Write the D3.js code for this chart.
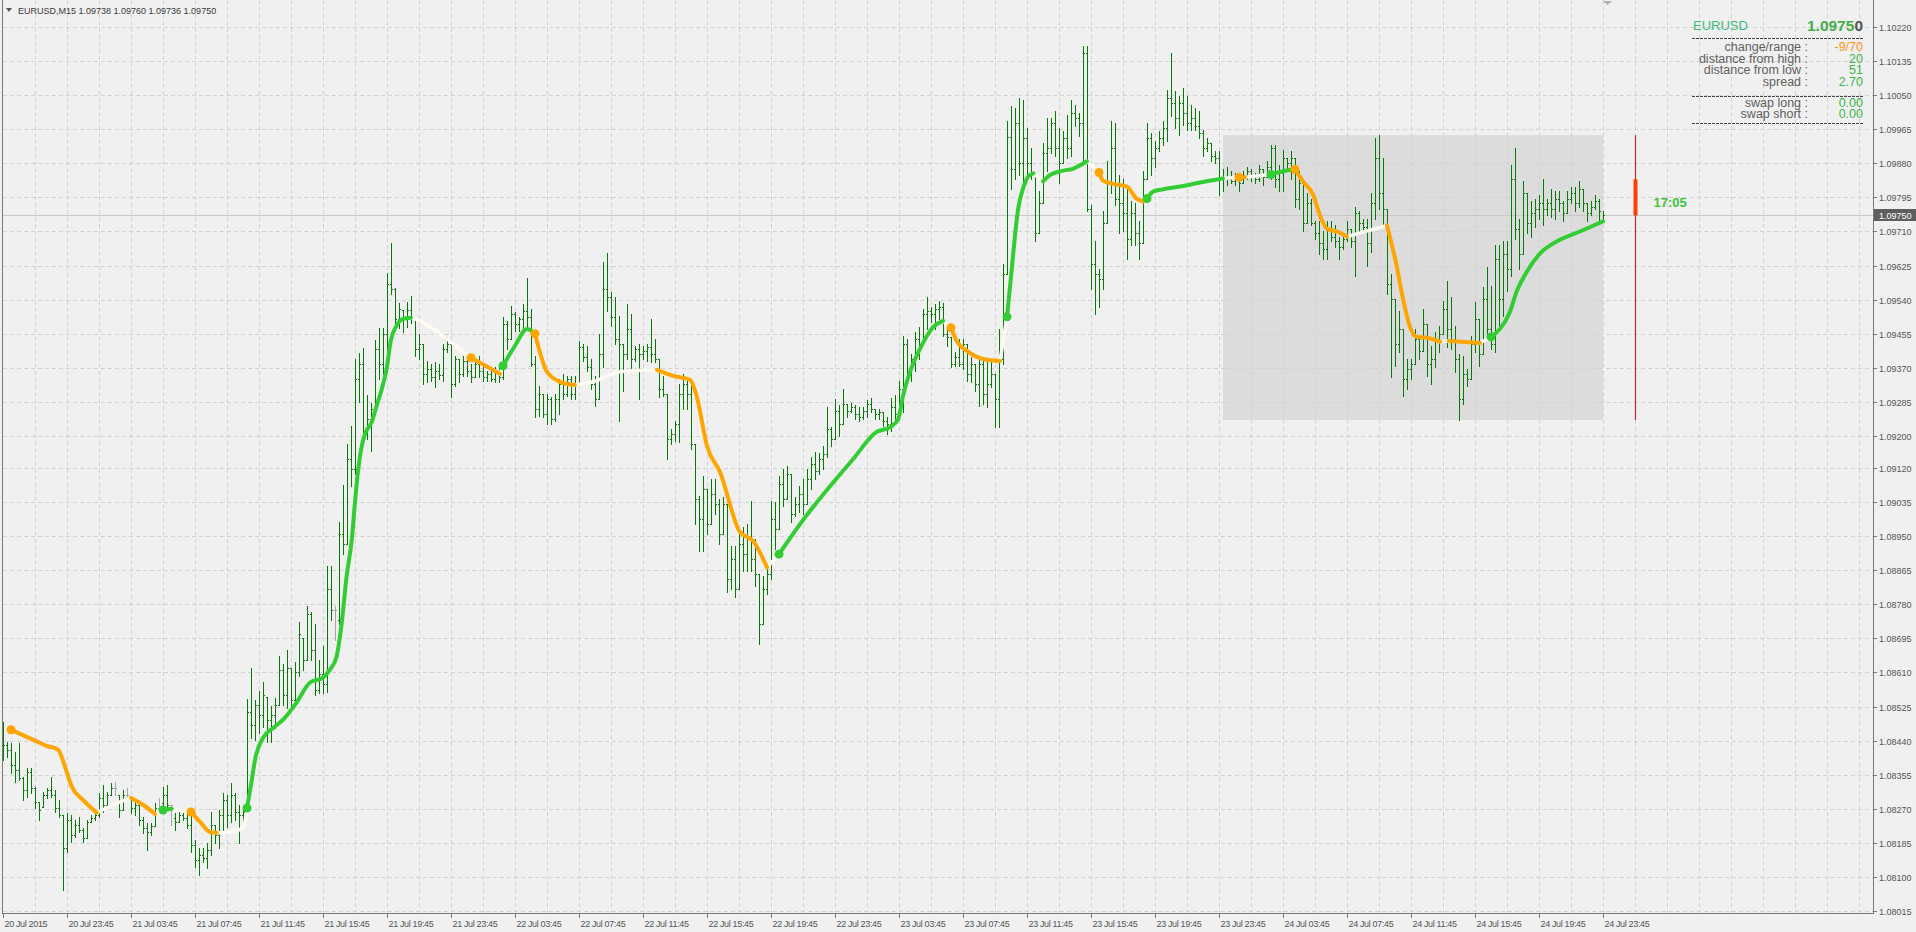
<!DOCTYPE html>
<html><head><meta charset="utf-8">
<script src="https://cdn.jsdelivr.net/npm/d3@7"></script>
<style>html,body{margin:0;padding:0;background:#f0f0f0;overflow:hidden}</style>
</head><body><svg id="c" width="1916" height="932"></svg>
<script>
// ---------------- DATA ----------------
const symbol = "EURUSD";
const timeframe = "M15";
const firstBarTime = "2015-07-20T19:45";
const highs = [
1.08487,1.08437,1.08435,1.08412,1.08435,1.08350,1.08372,1.08372,1.08325,1.08287,
1.08312,1.08322,1.08350,1.08317,1.08292,1.08255,1.08260,1.08255,1.08242,1.08250,
1.08222,1.08242,1.08255,1.08260,1.08310,1.08330,1.08312,1.08335,1.08337,1.08305,
1.08317,1.08322,1.08297,1.08292,1.08280,1.08250,1.08235,1.08235,1.08285,1.08297,
1.08325,1.08330,1.08280,1.08260,1.08262,1.08260,1.08262,1.08255,1.08192,1.08172,
1.08172,1.08185,1.08262,1.08230,1.08267,1.08310,1.08305,1.08335,1.08310,1.08280,
1.08267,1.08545,1.08620,1.08542,1.08565,1.08585,1.08550,1.08527,1.08547,1.08652,
1.08630,1.08667,1.08622,1.08635,1.08735,1.08697,1.08777,1.08762,1.08730,1.08642,
1.08677,1.08875,1.08875,1.08777,1.08985,1.09077,1.09180,1.09225,1.09392,1.09407,
1.09420,1.09302,1.09282,1.09440,1.09470,1.09470,1.09607,1.09682,1.09570,1.09532,
1.09515,1.09535,1.09550,1.09492,1.09455,1.09430,1.09387,1.09380,1.09385,1.09380,
1.09430,1.09447,1.09430,1.09400,1.09392,1.09400,1.09392,1.09380,1.09392,1.09400,
1.09372,1.09362,1.09367,1.09372,1.09380,1.09497,1.09487,1.09525,1.09510,1.09497,
1.09530,1.09595,1.09517,1.09400,1.09325,1.09305,1.09305,1.09297,1.09305,1.09342,
1.09355,1.09350,1.09350,1.09350,1.09437,1.09430,1.09425,1.09392,1.09350,1.09455,
1.09635,1.09657,1.09560,1.09547,1.09500,1.09430,1.09530,1.09505,1.09425,1.09430,
1.09425,1.09430,1.09492,1.09442,1.09392,1.09350,1.09305,1.09217,1.09237,1.09330,
1.09355,1.09347,1.09342,1.09180,1.09050,1.09100,1.09067,1.09092,1.09092,1.09042,
1.09047,1.09030,1.08925,1.08925,1.08962,1.08972,1.08980,1.09037,1.08942,1.08855,
1.08850,1.08880,1.09037,1.09035,1.09100,1.09117,1.09125,1.09105,1.09047,1.09075,
1.09092,1.09117,1.09147,1.09160,1.09157,1.09175,1.09272,1.09222,1.09292,1.09277,
1.09317,1.09280,1.09282,1.09277,1.09272,1.09272,1.09290,1.09295,1.09267,1.09267,
1.09260,1.09247,1.09295,1.09302,1.09337,1.09450,1.09442,1.09405,1.09460,1.09472,
1.09517,1.09547,1.09522,1.09530,1.09537,1.09532,1.09467,1.09447,1.09410,1.09442,
1.09442,1.09430,1.09397,1.09380,1.09397,1.09392,1.09385,1.09385,1.09355,1.09467,
1.09630,1.09985,1.10022,1.10017,1.10042,1.10037,1.09967,1.09917,1.09855,1.09812,
1.09930,1.09992,1.09992,1.10010,1.09967,1.09960,1.10000,1.10037,1.10025,1.10005,
1.10172,1.10172,1.09775,1.09685,1.09617,1.09760,1.09887,1.09985,1.09980,1.09850,
1.09842,1.09822,1.09785,1.09780,1.09737,1.09860,1.09980,1.09955,1.09935,1.09960,
1.09985,1.10062,1.10155,1.10060,1.10047,1.10067,1.10047,1.10025,1.10017,1.10010,
1.09962,1.09942,1.09930,1.09910,1.09910,1.09867,1.09870,1.09860,1.09855,1.09855,
1.09860,1.09872,1.09867,1.09855,1.09875,1.09867,1.09885,1.09925,1.09925,1.09875,
1.09912,1.09892,1.09910,1.09892,1.09860,1.09830,1.09805,1.09792,1.09735,1.09735,
1.09712,1.09735,1.09735,1.09725,1.09697,1.09705,1.09737,1.09717,1.09772,1.09760,
1.09742,1.09742,1.09805,1.09942,1.09950,1.09892,1.09767,1.09605,1.09542,1.09512,
1.09467,1.09392,1.09392,1.09467,1.09442,1.09517,1.09480,1.09425,1.09460,1.09475,
1.09537,1.09587,1.09547,1.09475,1.09405,1.09400,1.09367,1.09450,1.09535,1.09492,
1.09572,1.09622,1.09575,1.09675,1.09675,1.09685,1.09687,1.09875,1.09917,1.09742,
1.09837,1.09805,1.09785,1.09792,1.09800,1.09842,1.09792,1.09817,1.09812,1.09810,
1.09787,1.09810,1.09822,1.09822,1.09837,1.09817,1.09780,1.09787,1.09800,1.09792,
1.09760];
const lows = [
1.08392,1.08400,1.08360,1.08337,1.08342,1.08292,1.08300,1.08310,1.08272,1.08242,
1.08275,1.08297,1.08300,1.08262,1.08250,1.08067,1.08162,1.08187,1.08200,1.08212,
1.08187,1.08197,1.08237,1.08242,1.08250,1.08262,1.08275,1.08305,1.08305,1.08250,
1.08267,1.08292,1.08260,1.08255,1.08230,1.08210,1.08167,1.08205,1.08227,1.08267,
1.08262,1.08275,1.08230,1.08217,1.08237,1.08242,1.08222,1.08162,1.08125,1.08105,
1.08137,1.08122,1.08155,1.08185,1.08172,1.08212,1.08225,1.08237,1.08242,1.08185,
1.08225,1.08262,1.08447,1.08442,1.08460,1.08475,1.08437,1.08437,1.08472,1.08530,
1.08530,1.08522,1.08525,1.08542,1.08600,1.08617,1.08642,1.08642,1.08555,1.08560,
1.08560,1.08562,1.08742,1.08692,1.08730,1.08905,1.08930,1.09075,1.09105,1.09285,
1.09205,1.09192,1.09162,1.09262,1.09342,1.09355,1.09400,1.09555,1.09480,1.09470,
1.09460,1.09472,1.09482,1.09400,1.09392,1.09330,1.09335,1.09337,1.09322,1.09342,
1.09337,1.09410,1.09297,1.09325,1.09335,1.09350,1.09350,1.09335,1.09347,1.09347,
1.09337,1.09337,1.09337,1.09335,1.09335,1.09342,1.09417,1.09442,1.09462,1.09462,
1.09467,1.09467,1.09375,1.09247,1.09250,1.09247,1.09230,1.09230,1.09237,1.09255,
1.09292,1.09300,1.09292,1.09292,1.09330,1.09387,1.09362,1.09317,1.09275,1.09292,
1.09372,1.09512,1.09475,1.09430,1.09237,1.09312,1.09392,1.09367,1.09387,1.09292,
1.09392,1.09387,1.09385,1.09385,1.09297,1.09300,1.09142,1.09180,1.09187,1.09185,
1.09267,1.09267,1.09167,1.08980,1.08912,1.08912,1.08955,1.08980,1.09005,1.08930,
1.08955,1.08810,1.08817,1.08797,1.08817,1.08862,1.08862,1.08862,1.08825,1.08680,
1.08730,1.08805,1.08842,1.08917,1.08967,1.09025,1.09042,1.08985,1.09000,1.09010,
1.09005,1.09030,1.09067,1.09092,1.09105,1.09117,1.09147,1.09175,1.09192,1.09200,
1.09230,1.09247,1.09260,1.09242,1.09237,1.09242,1.09247,1.09260,1.09242,1.09242,
1.09225,1.09205,1.09212,1.09242,1.09242,1.09260,1.09335,1.09337,1.09362,1.09392,
1.09430,1.09467,1.09485,1.09467,1.09492,1.09450,1.09425,1.09372,1.09375,1.09375,
1.09367,1.09337,1.09335,1.09312,1.09275,1.09280,1.09272,1.09322,1.09222,1.09222,
1.09380,1.09605,1.09817,1.09842,1.09850,1.09825,1.09850,1.09842,1.09687,1.09705,
1.09780,1.09862,1.09905,1.09897,1.09830,1.09880,1.09892,1.09897,1.09972,1.09947,
1.09880,1.09762,1.09567,1.09505,1.09522,1.09567,1.09730,1.09805,1.09775,1.09705,
1.09712,1.09642,1.09675,1.09675,1.09642,1.09680,1.09842,1.09850,1.09872,1.09910,
1.09925,1.09935,1.09997,1.09967,1.09950,1.09975,1.09962,1.09962,1.09962,1.09942,
1.09897,1.09910,1.09887,1.09880,1.09800,1.09812,1.09825,1.09830,1.09825,1.09812,
1.09830,1.09842,1.09835,1.09830,1.09837,1.09825,1.09847,1.09842,1.09822,1.09812,
1.09810,1.09867,1.09842,1.09772,1.09767,1.09712,1.09730,1.09725,1.09692,1.09655,
1.09642,1.09642,1.09685,1.09672,1.09642,1.09667,1.09687,1.09672,1.09600,1.09705,
1.09710,1.09625,1.09660,1.09742,1.09767,1.09722,1.09555,1.09347,1.09375,1.09410,
1.09300,1.09317,1.09342,1.09380,1.09392,1.09412,1.09350,1.09330,1.09372,1.09410,
1.09455,1.09422,1.09417,1.09360,1.09240,1.09280,1.09325,1.09342,1.09410,1.09375,
1.09405,1.09442,1.09417,1.09410,1.09475,1.09500,1.09562,1.09600,1.09692,1.09617,
1.09655,1.09705,1.09697,1.09722,1.09742,1.09725,1.09750,1.09747,1.09742,1.09762,
1.09737,1.09755,1.09780,1.09762,1.09772,1.09760,1.09737,1.09750,1.09767,1.09735,
1.09736];
const opens = [
1.08442,1.08430,1.08417,1.08380,1.08367,1.08347,1.08317,1.08362,1.08322,1.08287,
1.08275,1.08305,1.08317,1.08305,1.08272,1.08255,1.08172,1.08242,1.08205,1.08230,
1.08217,1.08197,1.08237,1.08247,1.08255,1.08297,1.08280,1.08305,1.08322,1.08305,
1.08267,1.08305,1.08297,1.08272,1.08280,1.08242,1.08222,1.08212,1.08227,1.08272,
1.08285,1.08305,1.08280,1.08247,1.08237,1.08255,1.08247,1.08230,1.08180,1.08142,
1.08155,1.08147,1.08167,1.08230,1.08205,1.08255,1.08292,1.08255,1.08305,1.08262,
1.08255,1.08262,1.08512,1.08480,1.08530,1.08505,1.08550,1.08492,1.08505,1.08530,
1.08617,1.08555,1.08622,1.08542,1.08612,1.08697,1.08642,1.08755,1.08667,1.08567,
1.08605,1.08580,1.08817,1.08767,1.08742,1.08955,1.08930,1.09142,1.09117,1.09342,
1.09380,1.09212,1.09242,1.09267,1.09417,1.09380,1.09455,1.09580,1.09567,1.09492,
1.09515,1.09492,1.09515,1.09492,1.09417,1.09430,1.09355,1.09367,1.09347,1.09362,
1.09352,1.09417,1.09430,1.09330,1.09392,1.09355,1.09387,1.09362,1.09347,1.09380,
1.09362,1.09347,1.09355,1.09342,1.09362,1.09347,1.09480,1.09442,1.09505,1.09480,
1.09492,1.09512,1.09497,1.09380,1.09267,1.09305,1.09255,1.09292,1.09242,1.09292,
1.09330,1.09305,1.09342,1.09305,1.09330,1.09422,1.09397,1.09372,1.09330,1.09292,
1.09405,1.09567,1.09547,1.09497,1.09442,1.09430,1.09405,1.09467,1.09392,1.09417,
1.09405,1.09412,1.09422,1.09405,1.09392,1.09317,1.09305,1.09192,1.09205,1.09230,
1.09305,1.09330,1.09305,1.09180,1.09042,1.08992,1.09067,1.08980,1.09055,1.09030,
1.08955,1.09030,1.08842,1.08892,1.08817,1.08930,1.08905,1.08942,1.08892,1.08855,
1.08730,1.08817,1.08855,1.08992,1.08967,1.09080,1.09042,1.09105,1.09005,1.09030,
1.09055,1.09030,1.09092,1.09130,1.09112,1.09142,1.09155,1.09217,1.09192,1.09262,
1.09230,1.09280,1.09262,1.09272,1.09255,1.09247,1.09262,1.09280,1.09267,1.09255,
1.09260,1.09237,1.09230,1.09272,1.09255,1.09317,1.09430,1.09355,1.09392,1.09442,
1.09430,1.09505,1.09512,1.09505,1.09517,1.09522,1.09455,1.09447,1.09380,1.09397,
1.09380,1.09430,1.09355,1.09380,1.09330,1.09380,1.09305,1.09330,1.09355,1.09292,
1.09392,1.09605,1.09945,1.09867,1.09980,1.09880,1.09942,1.09880,1.09855,1.09705,
1.09780,1.09905,1.09917,1.09980,1.09917,1.09880,1.09942,1.09917,1.10005,1.09992,
1.09980,1.10155,1.09767,1.09630,1.09605,1.09592,1.09730,1.09830,1.09917,1.09792,
1.09780,1.09755,1.09692,1.09755,1.09705,1.09680,1.09842,1.09942,1.09892,1.09917,
1.09942,1.09967,1.10042,1.10030,1.09992,1.10030,1.10005,1.09980,1.09992,1.09972,
1.09955,1.09917,1.09930,1.09897,1.09892,1.09840,1.09847,1.09842,1.09837,1.09842,
1.09830,1.09852,1.09862,1.09847,1.09842,1.09867,1.09847,1.09872,1.09917,1.09842,
1.09855,1.09892,1.09880,1.09892,1.09792,1.09830,1.09730,1.09780,1.09730,1.09705,
1.09680,1.09667,1.09717,1.09697,1.09687,1.09672,1.09692,1.09717,1.09687,1.09755,
1.09730,1.09722,1.09680,1.09780,1.09892,1.09805,1.09767,1.09580,1.09542,1.09430,
1.09467,1.09342,1.09367,1.09380,1.09442,1.09412,1.09480,1.09380,1.09392,1.09442,
1.09455,1.09517,1.09467,1.09442,1.09392,1.09292,1.09355,1.09342,1.09430,1.09492,
1.09405,1.09542,1.09467,1.09430,1.09642,1.09542,1.09655,1.09617,1.09842,1.09717,
1.09655,1.09805,1.09730,1.09755,1.09767,1.09780,1.09767,1.09780,1.09767,1.09792,
1.09780,1.09755,1.09792,1.09805,1.09780,1.09817,1.09780,1.09755,1.09772,1.09787,
1.09738];
const closes = [
1.08430,1.08417,1.08380,1.08367,1.08347,1.08317,1.08362,1.08322,1.08287,1.08267,
1.08305,1.08317,1.08305,1.08272,1.08255,1.08172,1.08242,1.08205,1.08230,1.08217,
1.08197,1.08237,1.08247,1.08255,1.08297,1.08280,1.08305,1.08322,1.08322,1.08267,
1.08305,1.08305,1.08272,1.08280,1.08242,1.08222,1.08212,1.08227,1.08272,1.08272,
1.08305,1.08280,1.08280,1.08237,1.08255,1.08247,1.08230,1.08180,1.08142,1.08155,
1.08147,1.08167,1.08230,1.08205,1.08255,1.08292,1.08255,1.08305,1.08262,1.08255,
1.08262,1.08512,1.08480,1.08530,1.08505,1.08555,1.08492,1.08505,1.08530,1.08617,
1.08555,1.08622,1.08542,1.08612,1.08705,1.08642,1.08755,1.08667,1.08567,1.08605,
1.08580,1.08817,1.08767,1.08767,1.08955,1.08930,1.09142,1.09117,1.09342,1.09380,
1.09212,1.09242,1.09267,1.09417,1.09380,1.09455,1.09580,1.09567,1.09492,1.09517,
1.09492,1.09515,1.09492,1.09417,1.09430,1.09355,1.09367,1.09347,1.09362,1.09352,
1.09417,1.09430,1.09330,1.09392,1.09355,1.09387,1.09362,1.09347,1.09380,1.09362,
1.09347,1.09355,1.09342,1.09362,1.09347,1.09480,1.09442,1.09505,1.09480,1.09492,
1.09512,1.09497,1.09380,1.09267,1.09305,1.09255,1.09292,1.09242,1.09292,1.09330,
1.09305,1.09342,1.09305,1.09330,1.09422,1.09397,1.09372,1.09330,1.09292,1.09405,
1.09567,1.09547,1.09497,1.09442,1.09430,1.09405,1.09467,1.09392,1.09417,1.09405,
1.09412,1.09422,1.09405,1.09392,1.09317,1.09305,1.09192,1.09205,1.09230,1.09305,
1.09330,1.09305,1.09180,1.09042,1.08992,1.09067,1.08980,1.09055,1.09030,1.08955,
1.09030,1.08842,1.08892,1.08817,1.08930,1.08905,1.08942,1.08892,1.08855,1.08730,
1.08817,1.08855,1.08992,1.08967,1.09080,1.09042,1.09105,1.09005,1.09030,1.09055,
1.09030,1.09092,1.09130,1.09112,1.09142,1.09155,1.09217,1.09192,1.09262,1.09230,
1.09280,1.09262,1.09272,1.09255,1.09247,1.09262,1.09280,1.09267,1.09255,1.09260,
1.09237,1.09230,1.09272,1.09255,1.09317,1.09430,1.09355,1.09392,1.09442,1.09430,
1.09505,1.09512,1.09505,1.09517,1.09522,1.09455,1.09447,1.09380,1.09397,1.09380,
1.09430,1.09355,1.09380,1.09330,1.09380,1.09305,1.09330,1.09355,1.09292,1.09392,
1.09605,1.09945,1.09867,1.09980,1.09880,1.09942,1.09880,1.09855,1.09705,1.09780,
1.09905,1.09917,1.09980,1.09917,1.09880,1.09942,1.09917,1.10005,1.09992,1.09980,
1.10155,1.09767,1.09630,1.09605,1.09592,1.09730,1.09830,1.09917,1.09792,1.09780,
1.09755,1.09692,1.09755,1.09705,1.09680,1.09842,1.09942,1.09892,1.09917,1.09942,
1.09967,1.10042,1.10030,1.09992,1.10030,1.10005,1.09980,1.09992,1.09972,1.09955,
1.09917,1.09930,1.09897,1.09892,1.09840,1.09847,1.09842,1.09837,1.09842,1.09830,
1.09852,1.09862,1.09847,1.09842,1.09867,1.09847,1.09872,1.09917,1.09842,1.09855,
1.09892,1.09880,1.09892,1.09792,1.09830,1.09730,1.09780,1.09730,1.09705,1.09680,
1.09667,1.09717,1.09697,1.09687,1.09672,1.09692,1.09717,1.09687,1.09755,1.09730,
1.09722,1.09680,1.09780,1.09892,1.09805,1.09767,1.09580,1.09542,1.09430,1.09467,
1.09342,1.09367,1.09380,1.09442,1.09412,1.09480,1.09380,1.09392,1.09442,1.09455,
1.09517,1.09467,1.09442,1.09392,1.09292,1.09355,1.09342,1.09430,1.09492,1.09405,
1.09542,1.09467,1.09430,1.09642,1.09542,1.09655,1.09617,1.09842,1.09717,1.09655,
1.09805,1.09730,1.09755,1.09767,1.09780,1.09767,1.09780,1.09767,1.09792,1.09780,
1.09755,1.09792,1.09805,1.09780,1.09817,1.09780,1.09755,1.09772,1.09787,1.09762,
1.09750];

// Smoothed trend line (bar position, value)
const maBars = [2,7.6,10.9,13.8,15.5,17.2,20,23.4,27.6,32,35,38,40,42.2,47,49.3,51.75,53.4,56.75,60,
61,62.2,63,65,67.6,70,73.4,76.75,80,81.75,83.4,84.7,85.9,87.2,88,88.8,89.7,90.5,92.2,93.4,
94.7,95.9,96.9,98.4,100,102,104.25,109.25,115,117,124.25,125,128,131,133,136,139.25,143,147.5,154.25,
163.5,167.6,171.75,173.4,176,179.25,184.25,187.6,191,194,199.25,212.5,218.4,221.75,223.8,225,226.75,229.25,231,232.6,
235,237,238.4,241,245,249.25,251,252.2,253,253.8,255,256.3,257.6,260,261.6,264.25,267.6,271,274,275,
277,281,283.4,285,286,287.6,290,294.25,299.25,305,309,310.5,317,320,323,325,327.6,329.25,331,333.4,
336,346,348.4,350,351.75,353.4,356,359.25,361.5,369.25,372,374.25,376.75,378.4,381,384.25,388.4,394.25,400];
const maValues = [1.08467,1.08442,1.08427,1.08417,1.08375,1.08325,1.08292,1.08260,1.08280,1.08297,1.08280,1.08257,1.08267,1.08270,1.08262,1.08237,1.08212,1.08210,1.08212,1.08222,
1.08272,1.08342,1.08392,1.08447,1.08472,1.08492,1.08535,1.08585,1.08597,1.08617,1.08650,1.08735,1.08850,1.08942,1.09035,1.09117,1.09175,1.09205,1.09235,1.09275,
1.09317,1.09367,1.09435,1.09475,1.09492,1.09495,1.09487,1.09455,1.09410,1.09395,1.09355,1.09375,1.09425,1.09467,1.09455,1.09360,1.09335,1.09327,1.09335,1.09360,
1.09365,1.09350,1.09340,1.09300,1.09175,1.09110,1.08960,1.08937,1.08872,1.08905,1.08980,1.09142,1.09210,1.09222,1.09242,1.09300,1.09360,1.09417,1.09450,1.09472,
1.09487,1.09470,1.09437,1.09412,1.09392,1.09387,1.09497,1.09617,1.09700,1.09767,1.09817,1.09847,1.09855,1.09835,1.09850,1.09860,1.09867,1.09885,1.09857,1.09837,
1.09830,1.09822,1.09792,1.09785,1.09792,1.09810,1.09815,1.09822,1.09832,1.09842,1.09845,1.09845,1.09852,1.09860,1.09865,1.09835,1.09800,1.09750,1.09717,1.09710,
1.09697,1.09725,1.09625,1.09542,1.09472,1.09447,1.09445,1.09435,1.09437,1.09432,1.09447,1.09467,1.09510,1.09560,1.09610,1.09655,1.09685,1.09710,1.09735];
// trend segments of the line: start bar and state
const segStart = [2,23.4,32,38,40,42.2,47,53.4,61,102,117,124.25,125,133,143,163.5,191,194,235,237,
249.25,251,257.6,260,271,274,285,286,305,309,310.5,317,323,336,346,359.25,361.5,369.25,372];
const segTrend = ["down","flat","down","flat","up","flat","down","flat","up","flat","down","flat","up","down","flat","down","flat","up","flat","down",
"flat","up","flat","up","flat","down","flat","up","flat","down","flat","up","down","flat","down","flat","down","flat","up"];
const signalBars = [2,40,47,61,117,125,133,194,237,251,274,286,309,317,323,372];
const signalTrend = ["down","up","down","up","down","up","down","up","down","up","down","up","down","up","down","up"];

// Axis tick labels
const priceTicks = ["1.10220","1.10135","1.10050","1.09965","1.09880","1.09795","1.09710","1.09625","1.09540",
"1.09455","1.09370","1.09285","1.09200","1.09120","1.09035","1.08950","1.08865","1.08780","1.08695",
"1.08610","1.08525","1.08440","1.08355","1.08270","1.08185","1.08100","1.08015"];
const timeLabels = ["20 Jul 2015","20 Jul 23:45","21 Jul 03:45","21 Jul 07:45","21 Jul 11:45","21 Jul 15:45",
"21 Jul 19:45","21 Jul 23:45","22 Jul 03:45","22 Jul 07:45","22 Jul 11:45","22 Jul 15:45","22 Jul 19:45",
"22 Jul 23:45","23 Jul 03:45","23 Jul 07:45","23 Jul 11:45","23 Jul 15:45","23 Jul 19:45","23 Jul 23:45",
"24 Jul 03:45","24 Jul 07:45","24 Jul 11:45","24 Jul 15:45","24 Jul 19:45","24 Jul 23:45"];

// Info panel
const panelLabels = ["change/range","distance from high","distance from low","spread"];
const panelValues = ["-9/70","20","51","2.70"];
const swapLabels = ["swap long","swap short"];
const swapValues = ["0.00","0.00"];
const timeLeft = "17:05";

// ---------------- DRAW ----------------
const svg = d3.select("#c");
const FONT = "'Liberation Sans', Arial, sans-serif";
const BG = "#f0f0f0", GRID = "#d2d2d2", AXIS = "#787878", TXT = "#555";
const trendColor = {up:"#32cd32", down:"#ffa500", flat:"#fffbf3"};
const nBars = highs.length;
const lastIdx = nBars - 1;
const barsPerLabel = 16, barsPerGrid = 8;

const x = d3.scaleLinear().domain([0, lastIdx]).range([3, 1603]);
const y = d3.scaleLinear().domain([+priceTicks[priceTicks.length-1], +priceTicks[0]]).range([911, 27]);
const plotRight = 1873, plotBottom = 913;

svg.append("rect").attr("width",1916).attr("height",932).attr("fill",BG);

// times
const t0 = d3.isoParse(firstBarTime + ":00");
const times = d3.range(nBars).map(i => d3.timeMinute.offset(t0, 15*i));
const lastDay = d3.timeDay.floor(times[lastIdx]);
const dayStart = times.findIndex(t => t >= lastDay);
const dayHigh = d3.max(highs.slice(dayStart)), dayLow = d3.min(lows.slice(dayStart));
const dayOpen = opens[dayStart], lastClose = closes[lastIdx];

// day range box
svg.append("rect")
  .attr("x", x(dayStart)).attr("y", y(dayHigh))
  .attr("width", x(lastIdx) - x(dayStart)).attr("height", y(dayLow) - y(dayHigh))
  .attr("fill", "#dcdcdc");

// grid
const gGrid = svg.append("g").attr("stroke", GRID).attr("stroke-dasharray","4,3").attr("shape-rendering","crispEdges");
const maxGridBar = Math.floor((x.invert(plotRight)) / barsPerGrid) * barsPerGrid;
d3.range(barsPerGrid, maxGridBar + 1, barsPerGrid).forEach(b => {
  const xx = Math.round(x(b)) + 0.5;
  if (xx < plotRight - 2) gGrid.append("line").attr("x1",xx).attr("x2",xx).attr("y1",0).attr("y2",plotBottom);
});
priceTicks.forEach(t => {
  const yy = Math.round(y(+t)) + 0.5;
  gGrid.append("line").attr("x1",3).attr("x2",plotRight).attr("y1",yy).attr("y2",yy);
});

// current price line
svg.append("line").attr("x1",3).attr("x2",plotRight)
  .attr("y1", Math.round(y(lastClose))+0.5).attr("y2", Math.round(y(lastClose))+0.5)
  .attr("stroke","#c8c8c8").attr("shape-rendering","crispEdges");

// OHLC bars
svg.append("g").attr("fill","none").attr("shape-rendering","crispEdges")
  .selectAll("path").data(d3.range(nBars)).join("path")
  .attr("stroke", i => opens[i] === closes[i] ? "#a6a6a6" : "#087808")
  .attr("d", i => {
    const X = Math.round(x(i)), cx = X + 0.5;
    const yh = Math.round(y(highs[i])), yl = Math.round(y(lows[i])) + 1;
    const yo = Math.round(y(opens[i])) + 0.5, yc = Math.round(y(closes[i])) + 0.5;
    return `M${cx},${yh}V${yl}M${X-1},${yo}H${X+1}M${X},${yc}H${X+2}`;
  });

// trend line
const maPts = maBars.map((b,i) => [b, maValues[i]]);
const line = d3.line().x(d => x(d[0])).y(d => y(d[1])).curve(d3.curveMonotoneX);
const gMa = svg.append("g").attr("fill","none").attr("stroke-linecap","round");
const segs = segStart.map((s,i) => ({s, e: i < segStart.length-1 ? segStart[i+1] : maBars[maBars.length-1], t: segTrend[i]}));
["flat","down","up"].forEach(kind => {
  segs.filter(sg => sg.t === kind).forEach(sg => {
    const pts = maPts.filter(p => p[0] >= sg.s && p[0] <= sg.e);
    gMa.append("path").attr("d", line(pts))
      .attr("stroke", trendColor[kind]).attr("stroke-width", kind === "flat" ? 3.5 : 4);
  });
});
const maAt = b => maValues[maBars.indexOf(b)];
svg.append("g").selectAll("circle").data(signalBars).join("circle")
  .attr("cx", b => x(b)).attr("cy", b => y(maAt(b))).attr("r", 4.5)
  .attr("fill", (b,i) => trendColor[signalTrend[i]]);

// daily bar at right of chart
const dX = Math.round(x(lastIdx + 8)) + 0.5;
svg.append("line").attr("x1",dX).attr("x2",dX).attr("y1",y(dayHigh)).attr("y2",y(dayLow))
  .attr("stroke","#d0283a").attr("stroke-width",1.2);
svg.append("line").attr("x1",dX).attr("x2",dX).attr("y1",y(dayOpen)).attr("y2",y(lastClose))
  .attr("stroke","#ff3d00").attr("stroke-width",4);
svg.append("text").attr("x", dX + 18).attr("y", y(lastClose) - 8)
  .attr("font-family",FONT).attr("font-size",13).attr("font-weight","bold").attr("fill","#3cc43c")
  .text(timeLeft);

// frame
svg.append("path").attr("d",`M2.5,0V${plotBottom+0.5}H${plotRight+0.5}V0`)
  .attr("fill","none").attr("stroke",AXIS).attr("shape-rendering","crispEdges");

// price axis
const gY = svg.append("g").attr("font-family",FONT).attr("font-size",9).attr("fill",TXT);
priceTicks.forEach(t => {
  const yy = Math.round(y(+t)) + 0.5;
  gY.append("line").attr("x1",plotRight).attr("x2",plotRight+4).attr("y1",yy).attr("y2",yy)
    .attr("stroke",AXIS).attr("shape-rendering","crispEdges");
  gY.append("text").attr("x",1879).attr("y",yy+3.2).text(t);
});
const cy = Math.round(y(lastClose));
svg.append("rect").attr("x",plotRight+1).attr("y",cy-6).attr("width",1916-plotRight-1).attr("height",12).attr("fill","#5e5e5e");
svg.append("text").attr("x",1879).attr("y",cy+3.5).attr("font-family",FONT).attr("font-size",9)
  .attr("fill","#fff").text(lastClose.toFixed(5));

// time axis
const gX = svg.append("g").attr("font-family",FONT).attr("font-size",9).attr("fill",TXT).attr("letter-spacing","-0.35");
timeLabels.forEach((lab,k) => {
  const xx = Math.round(x(k*barsPerLabel)) + 0.5;
  gX.append("line").attr("x1",xx).attr("x2",xx).attr("y1",plotBottom).attr("y2",plotBottom+5)
    .attr("stroke",AXIS).attr("shape-rendering","crispEdges");
  gX.append("text").attr("x",xx+1).attr("y",927).text(lab);
});

// header
svg.append("path").attr("d","M6,8H12L9,12Z").attr("fill","#555");
svg.append("text").attr("x",18).attr("y",14).attr("font-family",FONT).attr("font-size",9).attr("fill","#3a3a3a")
  .text(`${symbol},${timeframe}  ${opens[lastIdx].toFixed(5)} ${highs[lastIdx].toFixed(5)} ${lows[lastIdx].toFixed(5)} ${closes[lastIdx].toFixed(5)}`);
// chart shift marker
svg.append("path").attr("d",`M${x(lastIdx)},1H${x(lastIdx)+9}L${x(lastIdx)+4.5},5Z`).attr("fill","#b0b0b0");

// info panel
const gP = svg.append("g").attr("font-family",FONT);
gP.append("text").attr("x",1693).attr("y",30).attr("font-size",13).attr("fill","#3dba7c").text(symbol);
const pTxt = lastClose.toFixed(5);
const pt = gP.append("text").attr("x",1863).attr("y",31).attr("text-anchor","end").attr("font-size",15.5).attr("font-weight","bold");
pt.append("tspan").attr("fill","#46ad4a").text(pTxt.slice(0,-1));
pt.append("tspan").attr("fill","#555").text(pTxt.slice(-1));
const sep = yy => gP.append("line").attr("x1",1692).attr("x2",1863).attr("y1",yy).attr("y2",yy)
  .attr("stroke","#444").attr("stroke-dasharray","3,1").attr("shape-rendering","crispEdges");
sep(38.5);
const rowY = [51, 62.5, 74, 85.5];
panelLabels.forEach((l,i) => {
  gP.append("text").attr("x",1808).attr("y",rowY[i]).attr("text-anchor","end").attr("font-size",12.5).attr("fill","#606060").text(l + " :");
  gP.append("text").attr("x",1863).attr("y",rowY[i]).attr("text-anchor","end").attr("font-size",12.5)
    .attr("fill", i === 0 ? "#ff9410" : "#3cb44a").text(panelValues[i]);
});
sep(96.5);
const swapY = [106.5, 118];
swapLabels.forEach((l,i) => {
  gP.append("text").attr("x",1808).attr("y",swapY[i]).attr("text-anchor","end").attr("font-size",12.5).attr("fill","#606060").text(l + " :");
  gP.append("text").attr("x",1863).attr("y",swapY[i]).attr("text-anchor","end").attr("font-size",12.5).attr("fill","#3cb44a").text(swapValues[i]);
});
sep(123.5);
</script></body></html>
